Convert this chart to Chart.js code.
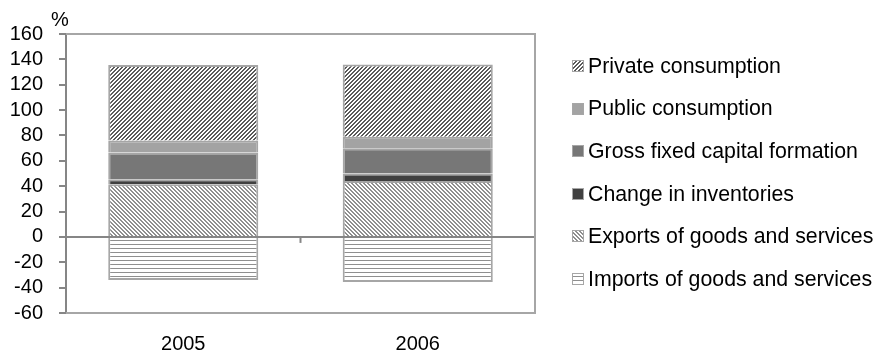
<!DOCTYPE html>
<html>
<head>
<meta charset="utf-8">
<script src="https://cdn.jsdelivr.net/npm/chart.js@4.4.0/dist/chart.umd.min.js"></script>
<style>
  html, body { margin: 0; padding: 0; background: #fff; }
  #wrap { width: 875px; height: 357px; position: relative; }
</style>
</head>
<body>
<div id="wrap"><canvas id="chart"></canvas></div>
<script>
const years = ['2005', '2006'];
const privateConsumption = [59.5, 57];
const publicConsumption = [9.5, 9];
const grossFixedCapital = [21, 20];
const inventoryChange = [4, 6];
const exportsGoods = [41.5, 44];
const importsGoods = [-34, -35.5];

const yMin = -60, yMax = 160, yStep = 20;

const FONT = "'Liberation Sans', Arial, sans-serif";
const AXIS_GREY = '#868686';
const EDGE_GREY = '#a6a6a6';

// small repeating hatch tiles
function hatch(kind, color) {
    const size = 4;
    const c = document.createElement('canvas');
    c.width = size; c.height = size;
    const g = c.getContext('2d');
    g.fillStyle = '#fff';
    g.fillRect(0, 0, size, size);
    g.fillStyle = color;
    for (let x = 0; x < size; x++) {
        for (let y = 0; y < size; y++) {
            let on;
            if (kind === 'fwd') on = ((x + y) % size) < 2;
            else if (kind === 'back') on = ((x - y + size) % size) < 2;
            else on = y === 0;
            if (on) g.fillRect(x, y, 1, 1);
        }
    }
    return g.createPattern(c, 'repeat');
}

const series = (label, data, bg) => ({
    label, data, backgroundColor: bg, borderColor: EDGE_GREY, borderWidth: 2,
    categoryPercentage: 1, barPercentage: 0.64
});

// stacking order bottom -> top, legend is reversed
const datasets = [
    series('Imports of goods and services', importsGoods, hatch('horiz', '#8f8f8f')),
    series('Exports of goods and services', exportsGoods, hatch('back', '#8f8f8f')),
    series('Change in inventories', inventoryChange, '#404040'),
    series('Gross fixed capital formation', grossFixedCapital, '#777777'),
    series('Public consumption', publicConsumption, '#a3a3a3'),
    series('Private consumption', privateConsumption, hatch('fwd', '#5a5a5a'))
];

// legend on the right, drawn by hand to match the spacing
const sideLegend = {
    id: 'sideLegend',
    afterDraw(chart) {
        const { ctx } = chart;
        const items = chart.data.datasets.slice().reverse();
        ctx.save();
        ctx.font = '21.3px ' + FONT;
        ctx.textBaseline = 'middle';
        ctx.textAlign = 'left';
        items.forEach((ds, i) => {
            const y = 66 + i * 42.6;
            ctx.fillStyle = ds.backgroundColor;
            ctx.fillRect(572, Math.round(y - 6), 12, 12);
            ctx.strokeStyle = EDGE_GREY;
            ctx.lineWidth = 1;
            ctx.strokeRect(572.5, Math.round(y - 6) + 0.5, 11, 11);
            ctx.fillStyle = '#000';
            ctx.fillText(ds.label, 588, y + 1);
        });
        ctx.restore();
    }
};

const decorations = {
    id: 'decorations',
    beforeDatasetsDraw(chart) {
        const { ctx, chartArea: a } = chart;
        ctx.save();
        ctx.strokeStyle = EDGE_GREY;
        ctx.lineWidth = 2;
        ctx.beginPath();
        ctx.moveTo(a.left, a.top);
        ctx.lineTo(a.right, a.top);
        ctx.lineTo(a.right, a.bottom);
        ctx.lineTo(a.left, a.bottom);
        ctx.stroke();
        ctx.restore();
    },
    afterDatasetsDraw(chart) {
        const { ctx, chartArea: a, scales } = chart;
        const x = (scales.x.getPixelForValue(0) + scales.x.getPixelForValue(1)) / 2;
        const y0 = scales.y.getPixelForValue(0);
        ctx.save();
        ctx.strokeStyle = AXIS_GREY;
        ctx.lineWidth = 2;
        ctx.beginPath();
        ctx.moveTo(x, y0);
        ctx.lineTo(x, y0 + 6);
        ctx.stroke();
        ctx.fillStyle = '#000';
        ctx.font = '20px ' + FONT;
        ctx.textAlign = 'center';
        ctx.textBaseline = 'middle';
        ctx.fillText('%', a.left - 6, a.top - 14);
        ctx.restore();
    }
};

new Chart(document.getElementById('chart'), {
    type: 'bar',
    data: { labels: years, datasets },
    options: {
        responsive: true,
        maintainAspectRatio: false,
        animation: false,
        layout: { padding: { top: 34, right: 340, bottom: 1, left: 10 } },
        plugins: {
            tooltip: { enabled: false },
            legend: { display: false }
        },
        scales: {
            x: {
                stacked: true,
                grid: { display: false, drawTicks: false },
                border: { display: false },
                ticks: { color: '#000', padding: 19, font: { family: FONT, size: 20 } },
                afterFit: (s) => { s.height = 43; }
            },
            y: {
                stacked: true,
                min: yMin,
                max: yMax,
                ticks: { stepSize: yStep, autoSkip: false, color: '#000', padding: 16, font: { family: FONT, size: 20 } },
                border: { color: AXIS_GREY, width: 2 },
                grid: {
                    drawOnChartArea: true,
                    color: (c) => (c.tick && c.tick.value === 0) ? AXIS_GREY : 'rgba(0,0,0,0)',
                    lineWidth: 2,
                    tickColor: AXIS_GREY,
                    tickLength: 7,
                    tickWidth: 2
                },
                afterFit: (s) => { s.width = 56; }
            }
        }
    },
    plugins: [decorations, sideLegend]
});
</script>
</body>
</html>
